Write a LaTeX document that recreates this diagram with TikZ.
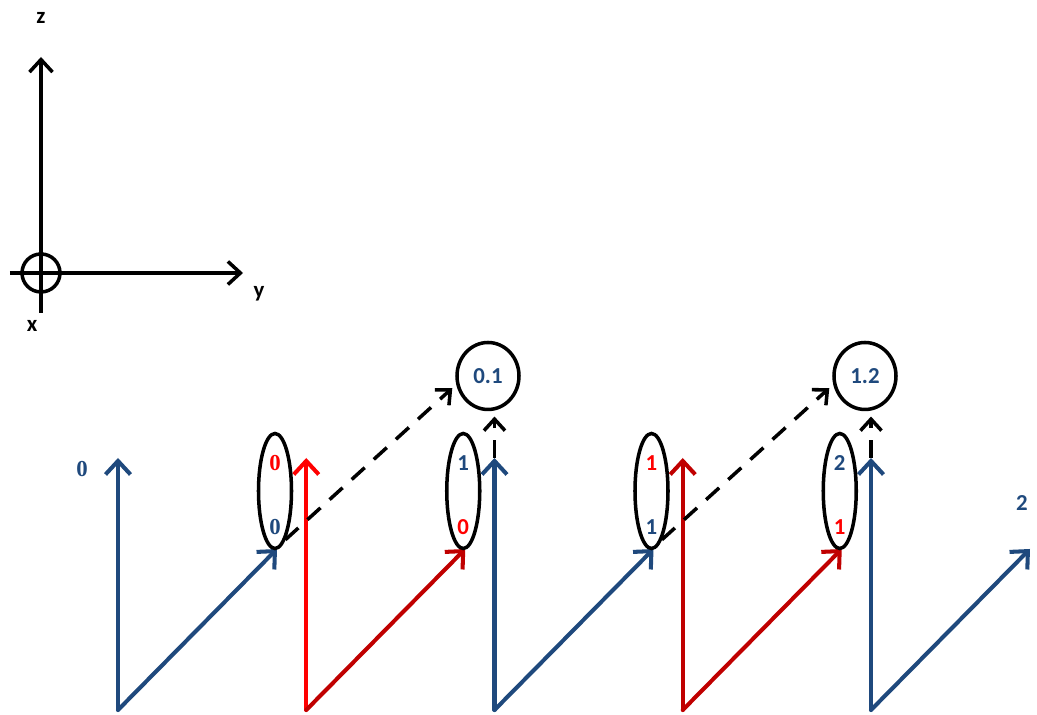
\documentclass[tikz,border=0pt]{standalone}
\usepackage{fontspec}
\setmainfont{Carlito}
\newfontfamily\serfont{Liberation Serif}
\usetikzlibrary{arrows.meta,shapes.geometric}
\definecolor{nblue}{RGB}{31,73,125}
\definecolor{dred}{RGB}{192,0,0}

\begin{document}
\begin{tikzpicture}[
    vec/.style={line width=2.3pt, line cap=round, -{Straight Barb[length=2.7mm,width=5mm]}},
    axis/.style={line width=2pt, -{Straight Barb[length=2.5mm,width=4.6mm]}},
    link/.style={line width=2pt, dash pattern=on 10pt off 7pt, shorten >=3pt, -{Straight Barb[length=2.3mm,width=4.2mm]}},
    pairnode/.style={ellipse, draw, line width=2pt, minimum width=0.66cm, minimum height=2.3cm, inner sep=0pt},
    sumnode/.style={ellipse, draw, line width=2pt, minimum width=1.24cm, minimum height=1.34cm, inner sep=0pt, text=nblue, font=\bfseries\fontsize{13}{15}\selectfont},
    numlab/.style={font=\bfseries\fontsize{13}{15}\selectfont, inner sep=0pt},
    serlab/.style={font=\serfont\bfseries\fontsize{13}{15}\selectfont, inner sep=0pt}
]
\useasboundingbox (0,0) rectangle (20.74,14.3);

% Koordinatenachsen
\node[circle, draw, line width=2pt, minimum size=0.76cm, inner sep=0pt] (orig) at (0.82,8.84) {};
\coordinate (zb) at (0.82,8.04);
\coordinate (zt) at (0.82,13.16);
\coordinate (yl) at (0.2,8.84);
\coordinate (yr) at (4.86,8.84);
\draw[axis] (zb) -- (zt);
\draw[axis] (yl) -- (yr);
\node[numlab] (zlab) at (0.82,13.94) {z};
\node[numlab] (ylab) at (5.18,8.42) {y};
\node[numlab] (xlab) at (0.64,7.78) {x};

% Vektoren
\foreach \i/\cv/\cd in {1/nblue/nblue,2/red/dred,3/nblue/nblue,4/dred/dred,5/nblue/nblue} {
    \coordinate (b\i) at ({2.36+3.765*(\i-1)},0.1);
    \coordinate (v\i) at ({2.36+3.765*(\i-1)},5.14);
    \coordinate (d\i) at ({5.54+3.765*(\i-1)},3.32);
    \draw[vec, \cv] (b\i) -- (v\i);
    \draw[vec, \cd] (b\i) -- (d\i);
}
\node[serlab, text=nblue] (lab0) at (1.64,4.92) {0};
\node[numlab, text=nblue] (lab2) at (20.44,4.24) {2};

% Paare
\foreach \i/\lup/\cup/\ldn/\cdn/\sty in {1/0/red/0/nblue/serlab,2/1/nblue/0/red/numlab,3/1/red/1/nblue/numlab,4/2/nblue/1/red/numlab} {
    \node[pairnode] (e\i) at ({5.5+3.765*(\i-1)},4.48) {};
    \node[\sty, text=\cup] (et\i) at ([yshift=0.56cm]e\i.center) {\lup};
    \node[\sty, text=\cdn] (eb\i) at ([yshift=-0.72cm]e\i.center) {\ldn};
}

% Summen
\node[sumnode] (c1) at (9.76,6.78) {0.1};
\node[sumnode] (c2) at (17.3,6.78) {1.2};
\draw[link] (e1.-78) -- (c1.195);
\draw[link] (e3.-78) -- (c2.195);
\draw[link] (v3) -- (c1.south -| v3);
\draw[link] (v5) -- (c2.south -| v5);
\end{tikzpicture}
\end{document}
